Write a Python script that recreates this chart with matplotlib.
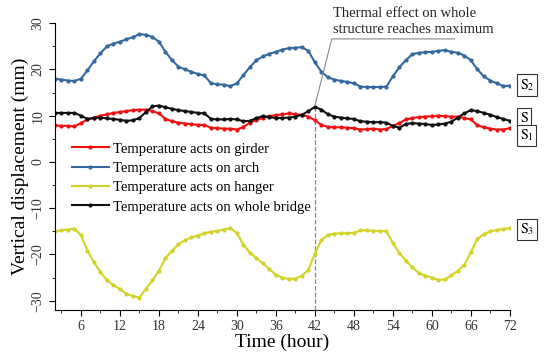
import matplotlib
matplotlib.use("Agg")
import matplotlib.pyplot as plt
from matplotlib.ticker import MultipleLocator
import numpy as np

plt.rcParams['font.family'] = ['Liberation Serif', 'DejaVu Serif']
plt.rcParams['mathtext.fontset'] = 'stix'

hours = np.arange(2, 73)

girder = [7.9, 7.8, 7.8, 7.7, 8.4, 9.2, 9.6, 10.0, 10.3, 10.6, 10.8, 11.0, 11.2, 11.3, 11.3,
          11.0, 10.5, 9.3, 8.8, 8.5, 8.3, 8.2, 8.0, 8.0, 7.4, 7.3, 7.2, 7.2, 7.0, 7.6, 8.5,
          9.1, 9.5, 9.9, 10.1, 10.3, 10.5, 10.3, 10.2, 9.8, 9.0, 8.0, 7.6, 7.5, 7.5, 7.4, 7.3,
          7.0, 7.1, 7.2, 7.0, 7.1, 7.8, 8.4, 9.2, 9.5, 9.7, 9.8, 9.9, 10.0, 9.9, 9.8, 9.8,
          9.5, 9.2, 7.9, 7.5, 7.2, 7.0, 7.0, 7.3]

arch = [18.0, 17.8, 17.6, 17.5, 18.0, 19.8, 21.8, 23.5, 25.0, 25.6, 26.0, 26.5, 27.0, 27.6,
        27.5, 27.0, 26.0, 23.8, 22.0, 20.6, 20.0, 19.5, 19.0, 18.7, 17.0, 16.8, 16.7, 16.4,
        17.0, 18.8, 20.5, 22.0, 22.8, 23.4, 23.8, 24.3, 24.6, 24.7, 24.8, 24.0, 21.5, 19.5,
        18.3, 17.8, 17.5, 17.3, 17.0, 16.3, 16.2, 16.2, 16.2, 16.3, 18.5, 20.5, 22.0, 23.3,
        23.6, 23.7, 23.8, 24.0, 24.2, 23.8, 23.6, 23.0, 22.0, 20.0, 18.5, 17.6, 17.0, 16.4,
        16.5]

hanger = [-15.0, -14.8, -14.6, -14.4, -15.8, -19.2, -21.7, -23.8, -25.6, -26.6, -27.5, -28.5,
          -29.0, -29.3, -27.4, -25.6, -23.5, -20.8, -19.2, -17.8, -16.9, -16.3, -15.9, -15.4,
          -15.1, -14.9, -14.6, -14.3, -15.4, -17.9, -19.6, -20.8, -21.9, -23.2, -24.4, -25.0,
          -25.3, -25.2, -24.6, -23.3, -19.8, -16.9, -15.8, -15.5, -15.4, -15.4, -15.3, -14.8,
          -14.8, -14.9, -14.9, -15.0, -17.5, -19.7, -21.3, -22.8, -24.0, -24.6, -25.0, -25.5,
          -25.4, -24.5, -23.5, -22.2, -19.5, -16.6, -15.6, -15.0, -14.7, -14.5, -14.3]

whole = [10.6, 10.6, 10.6, 10.6, 10.0, 9.3, 9.5, 9.6, 9.4, 9.3, 9.1, 8.9, 9.0, 9.5, 10.8,
         12.0, 12.2, 11.8, 11.5, 11.2, 11.0, 10.8, 10.6, 10.5, 9.3, 9.2, 9.2, 9.3, 9.2, 8.8,
         8.9, 9.5, 9.9, 9.7, 9.5, 9.5, 9.6, 9.8, 10.2, 11.0, 11.9, 11.3, 10.3, 9.8, 9.6, 9.4,
         9.3, 8.8, 8.7, 8.6, 8.6, 8.5, 7.8, 7.4, 8.2, 8.4, 8.3, 8.2, 8.0, 8.1, 8.3, 8.7, 9.6,
         10.5, 11.2, 11.0, 10.6, 10.2, 9.7, 9.3, 8.9]

series = [
    ("Temperature acts on girder", girder, "#f01010"),
    ("Temperature acts on arch", arch, "#3468a0"),
    ("Temperature acts on hanger", hanger, "#d2d229"),
    ("Temperature acts on whole bridge", whole, "#111111"),
]

box_labels = [(r"$\mathrm{S}_2$", 16.6), (r"$\mathrm{S}$", 9.6),
              (r"$\mathrm{S}_1$", 5.7), (r"$\mathrm{S}_3$", -14.6)]

peak_hour = 42

fig = plt.figure(figsize=(5.5, 3.62), dpi=100)
ax = fig.add_axes([0.1, 0.1436, 0.827, 0.7924])

for label, vals, color in series:
    ax.plot(hours, vals, color=color, lw=1.5, marker='o', ms=2.0, label=label)

ax.set_xlim(2, 72)
ax.set_ylim(-32, 30)
ax.xaxis.set_minor_locator(MultipleLocator(3))
ax.yaxis.set_major_locator(MultipleLocator(10))
ax.yaxis.set_minor_locator(MultipleLocator(5))
ax.set_xticks(np.arange(6, 73, 6))
ax.spines['top'].set_visible(False)
ax.spines['right'].set_visible(False)
ax.tick_params(which='major', length=4, labelsize=10, labelcolor='#333333')
ax.tick_params(which='minor', length=2.5)
for t in ax.get_yticklabels():
    t.set_rotation(90)
    t.set_va('center')
ax.set_xlabel("Time (hour)", fontsize=14, labelpad=0)
ax.set_ylabel("Vertical displacement (mm)", fontsize=14, labelpad=2)

ax.legend(loc='upper left', bbox_to_anchor=(0.025, 0.605), frameon=False,
          fontsize=10.5, handlelength=2.5, handletextpad=0.3, labelspacing=0.42,
          borderaxespad=0)

# dashed line at the peak of the whole-bridge response
peak_val = whole[list(hours).index(peak_hour)]
ax.plot([peak_hour, peak_hour], [-32, peak_val - 0.4], ls='--', color='#888888', lw=0.9,
        clip_on=False, zorder=1)
ax.plot([peak_hour, 44.6, 63.5], [peak_val + 0.3, 26.6, 26.6], color='#888888', lw=0.8,
        clip_on=False)
ax.text(44.8, 27.2, "Thermal effect on whole\nstructure reaches maximum", fontsize=10.5,
        ha='left', va='bottom', linespacing=1.3, color='#222222')

for txt, yv in box_labels:
    ax.text(73.5, yv, txt, fontsize=10, ha='left', va='center', clip_on=False,
            bbox=dict(boxstyle='square,pad=0.2', fc='white', ec='#333333', lw=0.8))

fig.savefig("out.png", dpi=100)
